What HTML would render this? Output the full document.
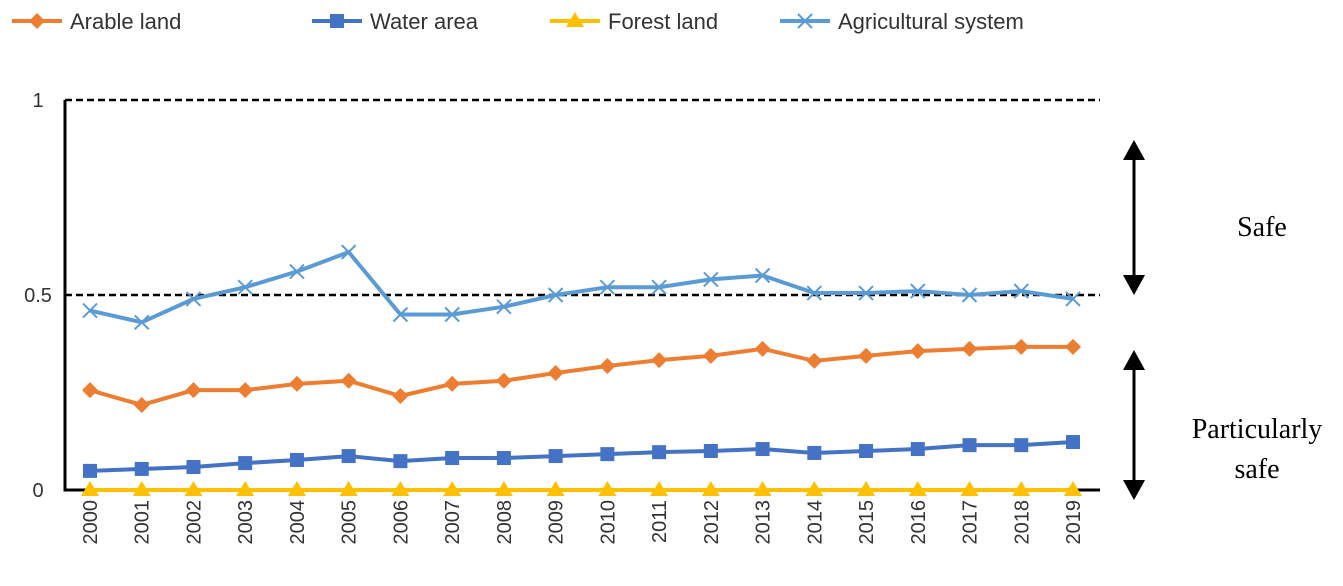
<!DOCTYPE html>
<html><head><meta charset="utf-8"><style>
body{margin:0;background:#fff;width:1343px;height:581px;overflow:hidden}
svg text{font-family:"Liberation Sans",sans-serif}
</style></head><body>
<svg id="chart" width="1343" height="581" xmlns="http://www.w3.org/2000/svg"></svg>
<script>
const years=["2000","2001","2002","2003","2004","2005","2006","2007","2008","2009","2010","2011","2012","2013","2014","2015","2016","2017","2018","2019"];
const arable=[0.256,0.218,0.256,0.256,0.272,0.28,0.241,0.272,0.28,0.30,0.318,0.333,0.344,0.362,0.331,0.344,0.356,0.362,0.367,0.367];
const water=[0.049,0.054,0.059,0.069,0.077,0.087,0.074,0.082,0.082,0.087,0.092,0.097,0.1,0.105,0.095,0.1,0.105,0.115,0.115,0.123];
const forest=[0,0,0,0,0,0,0,0,0,0,0,0,0,0,0,0,0,0,0,0];
const agri=[0.46,0.43,0.49,0.52,0.56,0.61,0.45,0.45,0.47,0.50,0.52,0.52,0.54,0.55,0.505,0.505,0.51,0.50,0.51,0.49];
const yTicks=[0,0.5,1];
const yTickLabels=["0","0.5","1"];
const NS="http://www.w3.org/2000/svg";
const svg=document.getElementById('chart');
const X0=65,X1=1100,Y0=490,Y1=100;
const xs=i=>X0+25+i*(1073-90)/19;
const ys=v=>Y0-v*(Y0-Y1);
function mk(t,a,p){const e=document.createElementNS(NS,t);for(const k in a)e.setAttribute(k,a[k]);(p||svg).appendChild(e);return e;}
yTicks.forEach((t,i)=>{
 if(t>0){const l=mk('line',{x1:X0,x2:X1,y1:ys(t),y2:ys(t),stroke:'#000','stroke-width':2.5,'stroke-dasharray':'7,4'});
 }
 const tx=mk('text',{x:38,y:ys(t)+7,'font-size':20,'text-anchor':'middle',fill:'#333'});tx.textContent=yTickLabels[i];
 
});
const ax=mk('path',{d:`M${X0},${Y1} V${Y0} H${X1}`,stroke:'#000','stroke-width':3,fill:'none'});

years.forEach((y,i)=>{
 const t=mk('text',{transform:`translate(${xs(i)+7},${Y0+10}) rotate(-90)`,'font-size':20,'text-anchor':'end',fill:'#333'});t.textContent=y;
 
});
function marker(type,x,y,c,g){
 if(type==='d')mk('path',{d:`M${x},${y-8}L${x+8},${y}L${x},${y+8}L${x-8},${y}Z`,fill:c},g);
 else if(type==='s')mk('rect',{x:x-7,y:y-7,width:14,height:14,fill:c},g);
 else if(type==='t')mk('path',{d:`M${x},${y-9}L${x+9},${y+6}L${x-9},${y+6}Z`,fill:c},g);
 else mk('path',{d:`M${x-7},${y-7}L${x+7},${y+7}M${x+7},${y-7}L${x-7},${y+7}`,stroke:c,'stroke-width':2},g);
}
const series=[["arable",arable,'#ED7D31','d'],["water",water,'#4472C4','s'],["forest",forest,'#FFC000','t'],["agricultural",agri,'#5B9BD5','x']];
series.forEach(([n,d,c,m])=>{
 const g=mk('g',{});
 mk('polyline',{points:d.map((v,i)=>xs(i)+','+ys(v)).join(' '),fill:'none',stroke:c,'stroke-width':4},g);
 d.forEach((v,i)=>marker(m,xs(i),ys(v),c,g));
});
const leg=[["Arable land",'#ED7D31','d',12],["Water area",'#4472C4','s',312],["Forest land",'#FFC000','t',550],["Agricultural system",'#5B9BD5','x',780]];
leg.forEach(([n,c,m,x])=>{
 const g=mk('g',{});
 mk('line',{x1:x,x2:x+50,y1:21,y2:21,stroke:c,'stroke-width':4},g);marker(m,x+25,21,c,g);
 const t=mk('text',{x:x+58,y:29,'font-size':22,fill:'#333'},g);t.textContent=n;
});
function arrow(y1,y2,name){const g=mk('g',{});
 mk('line',{x1:1134,x2:1134,y1:y1+15,y2:y2-15,stroke:'#000','stroke-width':3},g);
 mk('path',{d:`M1134,${y1}L1145,${y1+20}L1123,${y1+20}Z`,fill:'#000'},g);
 mk('path',{d:`M1134,${y2}L1145,${y2-20}L1123,${y2-20}Z`,fill:'#000'},g);}
arrow(140,295,'safe-arrow');arrow(350,500,'particularly-safe-arrow');
function lbl(txt,x,y,n){const t=mk('text',{x:x,y:y,'font-size':28,'text-anchor':'middle',fill:'#000',style:'font-family:"Liberation Serif",serif'});t.textContent=txt;}
lbl('Safe',1262,236,'safe-label');lbl('Particularly',1257,438,'particularly-safe-label');lbl('safe',1257,478,'particularly-safe-label-2');
</script>
</body></html>
